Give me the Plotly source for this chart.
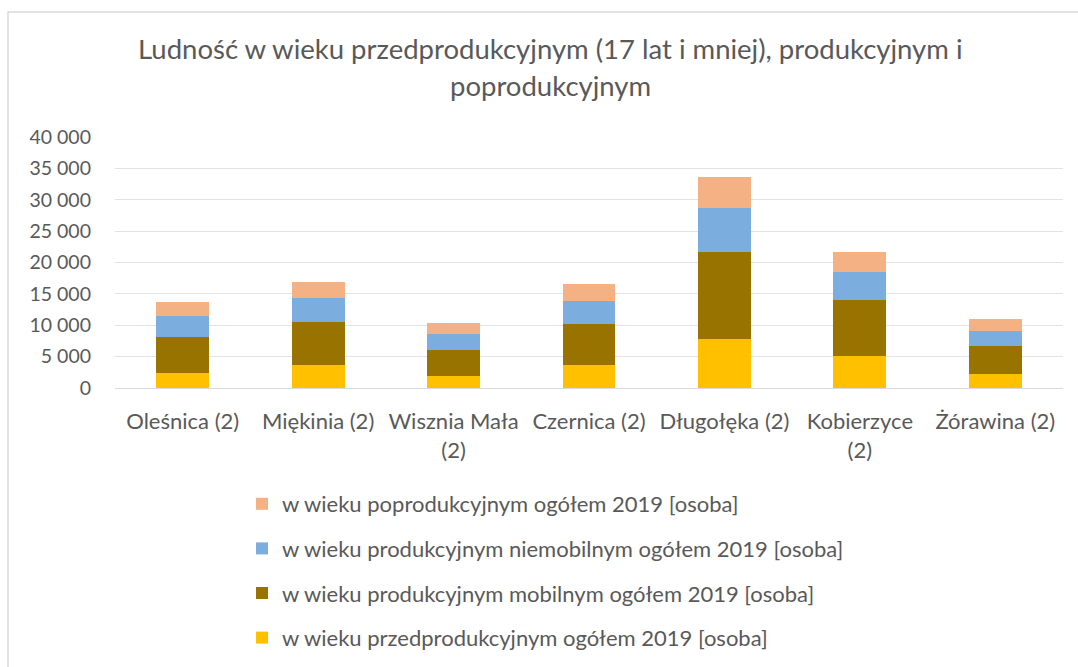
import plotly.graph_objects as go

categories = ["Oleśnica (2)", "Miękinia (2)", "Wisznia Mała<br>(2)", "Czernica (2)",
              "Długołęka (2)", "Kobierzyce<br>(2)", "Żórawina (2)"]

przedprod = [2450, 3610, 1860, 3610, 7760, 5100, 2280]
prod_mobilny = [5630, 6960, 4250, 6590, 13870, 8980, 4420]
prod_niemobilny = [3340, 3720, 2440, 3600, 7000, 4460, 2440]
poprod = [2240, 2610, 1860, 2700, 5000, 3140, 1810]

series_names = [
    "w wieku przedprodukcyjnym ogółem 2019 [osoba]",
    "w wieku produkcyjnym mobilnym ogółem 2019 [osoba]",
    "w wieku produkcyjnym niemobilnym ogółem 2019 [osoba]",
    "w wieku poprodukcyjnym ogółem 2019 [osoba]",
]
series_values = [przedprod, prod_mobilny, prod_niemobilny, poprod]
series_colors = ["#FFC000", "#997300", "#7BAEDE", "#F4B183"]

title_lines = ["Ludność w wieku przedprodukcyjnym (17 lat i mniej), produkcyjnym i",
               "poprodukcyjnym"]

FONT = "Lato, 'Open Sans', sans-serif"
GRAY = "#595959"

W, H = 1078, 667
L, R, T, B = 115, 15, 137, 279
pw, ph = W - L - R, H - T - B

def px_x(p):
    return (p - L) / pw

def px_y(p):
    return (H - B - p) / ph

fig = go.Figure()
n = len(series_names)
for i, (name, vals, col) in enumerate(zip(series_names, series_values, series_colors)):
    fig.add_trace(go.Bar(x=categories, y=vals, name=name, marker_color=col,
                         marker_line_width=0, legendgroup=name, legendrank=n - i))

fig.update_layout(
    width=W, height=H,
    margin=dict(l=L, r=R, t=T, b=B, autoexpand=False),
    barmode="stack", bargap=0.61,
    paper_bgcolor="white", plot_bgcolor="white",
    separators=", ",
    font=dict(family=FONT, color=GRAY, size=22),
    showlegend=True,
    legend=dict(orientation="v", traceorder="grouped", tracegroupgap=13,
                x=px_x(242), xanchor="left", y=px_y(483), yanchor="top",
                font=dict(size=22, color=GRAY, family=FONT),
                itemwidth=30, bgcolor="rgba(0,0,0,0)"),
    xaxis=dict(showgrid=False, showline=True, linecolor="#D9D9D9", linewidth=1,
               tickfont=dict(size=22, color=GRAY), ticks="", ticklabelstandoff=14,
               automargin=False),
    yaxis=dict(range=[0, 40000], dtick=5000, tickformat=",d", showgrid=True,
               gridcolor="#E3E3E3", gridwidth=1, zeroline=False, showline=False,
               tickfont=dict(size=19.5, color=GRAY), ticklabelstandoff=23,
               automargin=False),
)

for i, (line, ypx) in enumerate(zip(title_lines, [48, 85])):
    fig.add_annotation(text=line, xref="paper", yref="paper", x=px_x(550), y=px_y(ypx),
                       xanchor="center", yanchor="middle", showarrow=False,
                       font=dict(size=27.5, color=GRAY, family=FONT))

fig.add_shape(type="rect", xref="paper", yref="paper",
              x0=px_x(8), x1=px_x(1100), y0=px_y(700), y1=px_y(12),
              line=dict(color="#D9D9D9", width=1.5), fillcolor="rgba(0,0,0,0)",
              layer="below")

fig.write_html("out.html", config={"displayModeBar": False},
               post_script="document.body.style.margin='0';document.body.style.overflow='hidden';")
